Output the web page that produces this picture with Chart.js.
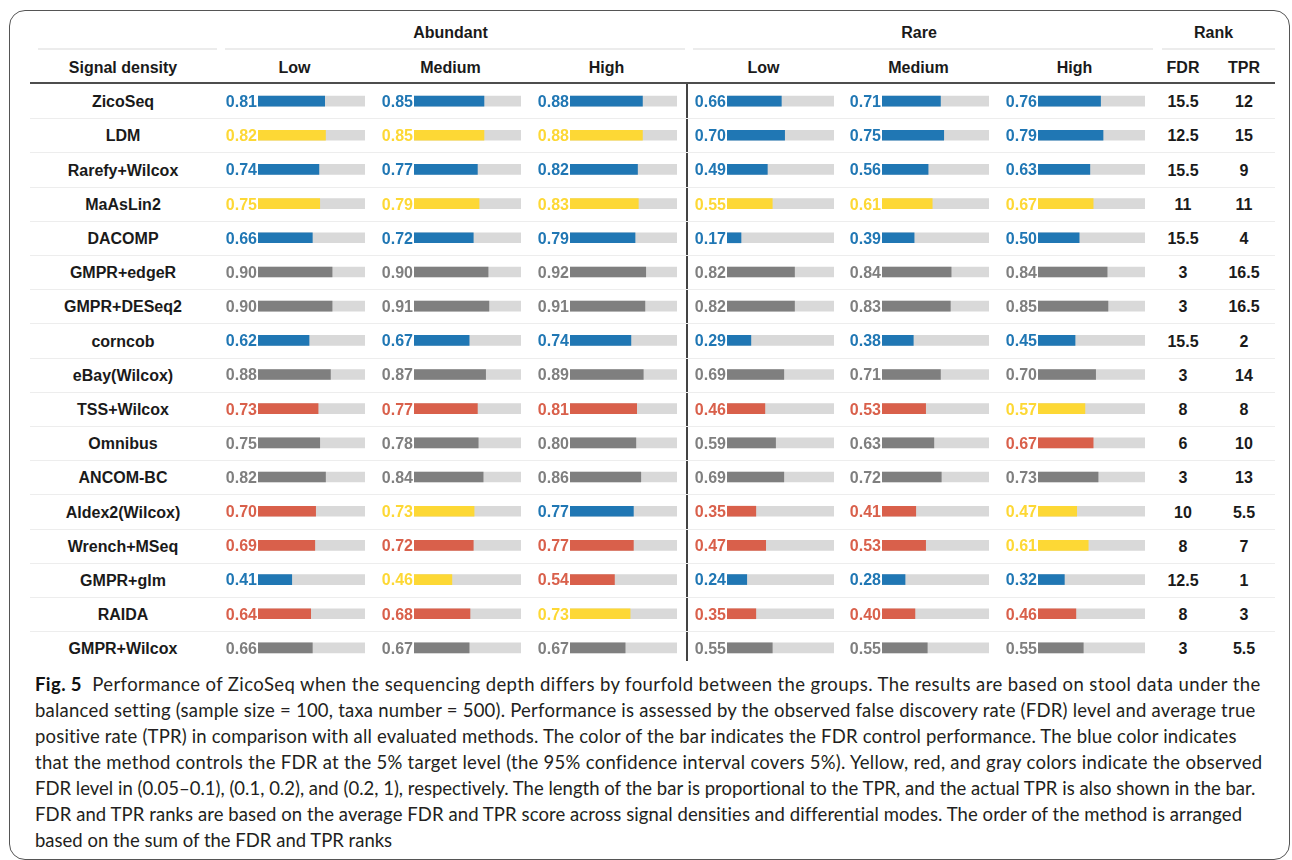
<!DOCTYPE html>
<html lang="en">
<head>
<meta charset="UTF-8">
<title>Fig. 5 - ZicoSeq performance</title>
<script src="https://cdn.jsdelivr.net/npm/chart.js"></script>
<style>
  body { margin: 0; background: #fff; width: 1292px; height: 860px; overflow: hidden;
         font-family: "Liberation Sans", Arial, sans-serif; }
  .page { position: relative; width: 1292px; height: 860px; }
  .frame { position: absolute; left: 9px; top: 10px; width: 1281px; height: 850px;
           border: 1.5px solid #555; border-radius: 16px; box-sizing: border-box; }
  .t { position: absolute; transform: translate(-50%, -50%); font-weight: bold; font-size: 16px;
       color: #1a1a1a; white-space: nowrap; }
  .light { position: absolute; height: 2px; background: #ececec; }
  .rowline { position: absolute; left: 30px; width: 1245px; height: 1px; background: #ededed; }
  .rule { position: absolute; left: 30px; top: 82px; width: 1245px; height: 2px; background: #4d4d4d; }
  .vline { position: absolute; left: 686px; top: 84px; width: 1.5px; height: 577px; background: #444; }
  canvas { position: absolute; top: 84px; }
  .caption { position: absolute; left: 35px; top: 671px; font-family: Lato, "Open Sans", sans-serif;
             font-size: 17px; line-height: 26px; color: #231f20; white-space: nowrap; }
  .caption span { display: inline-block; }
  .caption b { color: #111; }
</style>
</head>
<body>
<div class="page" id="page">
  <div class="frame"></div>
  <div class="rule"></div>
  <div class="vline"></div>
  <div class="caption" id="caption"></div>
</div>

<script>
// methods, top to bottom
const methods = ["ZicoSeq", "LDM", "Rarefy+Wilcox", "MaAsLin2", "DACOMP", "GMPR+edgeR", "GMPR+DESeq2",
  "corncob", "eBay(Wilcox)", "TSS+Wilcox", "Omnibus", "ANCOM-BC", "Aldex2(Wilcox)", "Wrench+MSeq",
  "GMPR+glm", "RAIDA", "GMPR+Wilcox"];

// TPR values per signal density, and FDR class (b = blue, y = yellow, r = red, g = gray)
const abundantLow    = [0.81,0.82,0.74,0.75,0.66,0.90,0.90,0.62,0.88,0.73,0.75,0.82,0.70,0.69,0.41,0.64,0.66];
const abundantLowFdr = ["b","y","b","y","b","g","g","b","g","r","g","g","r","r","b","r","g"];
const abundantMed    = [0.85,0.85,0.77,0.79,0.72,0.90,0.91,0.67,0.87,0.77,0.78,0.84,0.73,0.72,0.46,0.68,0.67];
const abundantMedFdr = ["b","y","b","y","b","g","g","b","g","r","g","g","y","r","y","r","g"];
const abundantHigh    = [0.88,0.88,0.82,0.83,0.79,0.92,0.91,0.74,0.89,0.81,0.80,0.86,0.77,0.77,0.54,0.73,0.67];
const abundantHighFdr = ["b","y","b","y","b","g","g","b","g","r","g","g","b","r","r","y","g"];
const rareLow    = [0.66,0.70,0.49,0.55,0.17,0.82,0.82,0.29,0.69,0.46,0.59,0.69,0.35,0.47,0.24,0.35,0.55];
const rareLowFdr = ["b","b","b","y","b","g","g","b","g","r","g","g","r","r","b","r","g"];
const rareMed    = [0.71,0.75,0.56,0.61,0.39,0.84,0.83,0.38,0.71,0.53,0.63,0.72,0.41,0.53,0.28,0.40,0.55];
const rareMedFdr = ["b","b","b","y","b","g","g","b","g","r","g","g","r","r","b","r","g"];
const rareHigh    = [0.76,0.79,0.63,0.67,0.50,0.84,0.85,0.45,0.70,0.57,0.67,0.73,0.47,0.61,0.32,0.46,0.55];
const rareHighFdr = ["b","b","b","y","b","g","g","b","g","y","r","g","y","y","b","r","g"];

const rankFdr = ["15.5","12.5","15.5","11","15.5","3","3","15.5","3","8","6","3","10","8","12.5","8","3"];
const rankTpr = ["12","15","9","11","4","16.5","16.5","2","14","8","10","13","5.5","7","1","3","5.5"];

const densityLabels = ["Low", "Medium", "High", "Low", "Medium", "High"];
const groupLabels = ["Abundant", "Rare", "Rank"];

const fdrColors = { b: "#2077b4", y: "#fdd835", r: "#d9604b", g: "#7f7f7f" };
const trackColor = "#d9d9d9";
const tprMax = 1.3;

// layout
const rowTop = 84, rowH = 34.2;
const barStarts = [258, 414, 570, 727, 882, 1038];
const labelRoom = 44, trackW = 107;
const page = document.getElementById("page");

function addText(txt, x, y) {
    const d = document.createElement("div");
    d.className = "t";
    d.textContent = txt;
    d.style.left = x + "px";
    d.style.top = (y + 1) + "px";
    page.appendChild(d);
}
function addLight(x1, x2, y) {
    const d = document.createElement("div");
    d.className = "light";
    d.style.left = x1 + "px"; d.style.width = (x2 - x1) + "px"; d.style.top = y + "px";
    page.appendChild(d);
}

// header
addLight(38, 217, 48); addLight(225, 685, 48); addLight(693, 1153, 48); addLight(1162, 1275, 48);
addText(groupLabels[0], (barStarts[0] + barStarts[2]) / 2 + 36.5, 32);
addText(groupLabels[1], (barStarts[3] + barStarts[5]) / 2 + 36.5, 32);
addText(groupLabels[2], 1213.5, 32);
addText("Signal density", 123, 67);
densityLabels.forEach((l, i) => addText(l, barStarts[i] + 36.5, 67));
addText("FDR", 1183, 67);
addText("TPR", 1244, 67);

// rows
methods.forEach((m, i) => {
    const cy = rowTop + rowH * (i + 0.5);
    addText(m, 123, cy);
    addText(rankFdr[i], 1183, cy);
    addText(rankTpr[i], 1244, cy);
    if (i > 0) {
        const d = document.createElement("div");
        d.className = "rowline";
        d.style.top = Math.round(rowTop + rowH * i) + "px";
        page.appendChild(d);
    }
});

// value labels left of each bar
const valueLabels = {
    id: "valueLabels",
    afterDatasetsDraw(chart) {
        const ctx = chart.ctx;
        const ds = chart.data.datasets[0];
        const meta = chart.getDatasetMeta(0);
        const x0 = chart.scales.x.getPixelForValue(0);
        ctx.save();
        ctx.font = 'bold 16px "Liberation Sans", Arial, sans-serif';
        ctx.textAlign = "right";
        ctx.textBaseline = "middle";
        meta.data.forEach((bar, i) => {
            ctx.fillStyle = ds.backgroundColor[i];
            ctx.fillText(ds.data[i].toFixed(2), x0 - 1, bar.y + 1.5);
        });
        ctx.restore();
    }
};

const columns = [
    [abundantLow, abundantLowFdr], [abundantMed, abundantMedFdr], [abundantHigh, abundantHighFdr],
    [rareLow, rareLowFdr], [rareMed, rareMedFdr], [rareHigh, rareHighFdr]
];

columns.forEach(([vals, fdr], c) => {
    const cv = document.createElement("canvas");
    cv.width = labelRoom + trackW;
    cv.height = Math.round(rowH * methods.length);
    cv.style.left = (barStarts[c] - labelRoom) + "px";
    page.appendChild(cv);

    new Chart(cv.getContext("2d"), {
        type: "bar",
        data: {
            labels: methods,
            datasets: [{
                data: vals,
                backgroundColor: fdr.map(k => fdrColors[k]),
                barThickness: 10,
                grouped: false,
                order: 0
            }, {
                data: methods.map(() => tprMax),
                backgroundColor: trackColor,
                barThickness: 10,
                grouped: false,
                order: 1
            }]
        },
        options: {
            indexAxis: "y",
            responsive: false,
            animation: false,
            layout: { padding: { left: labelRoom, right: 0, top: 0, bottom: 0 } },
            plugins: { legend: { display: false }, tooltip: { enabled: false } },
            scales: {
                x: { display: false, min: 0, max: tprMax },
                y: { display: false, offset: true }
            }
        },
        plugins: [valueLabels]
    });
});

// caption, one line per row as in the figure
const captionLines = [
    "<b>Fig. 5</b>&nbsp; Performance of ZicoSeq when the sequencing depth differs by fourfold between the groups. The results are based on stool data under the",
    "balanced setting (sample size = 100, taxa number = 500). Performance is assessed by the observed false discovery rate (FDR) level and average true",
    "positive rate (TPR) in comparison with all evaluated methods. The color of the bar indicates the FDR control performance. The blue color indicates",
    "that the method controls the FDR at the 5% target level (the 95% confidence interval covers 5%). Yellow, red, and gray colors indicate the observed",
    "FDR level in (0.05–0.1), (0.1, 0.2), and (0.2, 1), respectively. The length of the bar is proportional to the TPR, and the actual TPR is also shown in the bar.",
    "FDR and TPR ranks are based on the average FDR and TPR score across signal densities and differential modes. The order of the method is arranged",
    "based on the sum of the FDR and TPR ranks"
];
// right edge of each printed line
const captionEnds = [1260, 1255, 1237, 1262, 1256, 1242, 0];

const cap = document.getElementById("caption");
cap.innerHTML = captionLines.map(l => "<span>" + l + "</span>").join("<br>");
const spans = Array.from(cap.querySelectorAll("span"));
// size the font so the widest line fits, then stretch each line to its printed end
let widest = 0;
spans.forEach((s, i) => { if (captionEnds[i]) widest = Math.max(widest, s.getBoundingClientRect().width / (captionEnds[i] - 35)); });
const fs = 17 / widest;
cap.style.fontSize = fs.toFixed(2) + "px";
spans.forEach((s, i) => {
    if (!captionEnds[i]) return;
    const w = s.getBoundingClientRect().width;
    const n = s.textContent.length;
    s.style.letterSpacing = ((captionEnds[i] - 35 - w) / n).toFixed(3) + "px";
});
</script>
</body>
</html>
